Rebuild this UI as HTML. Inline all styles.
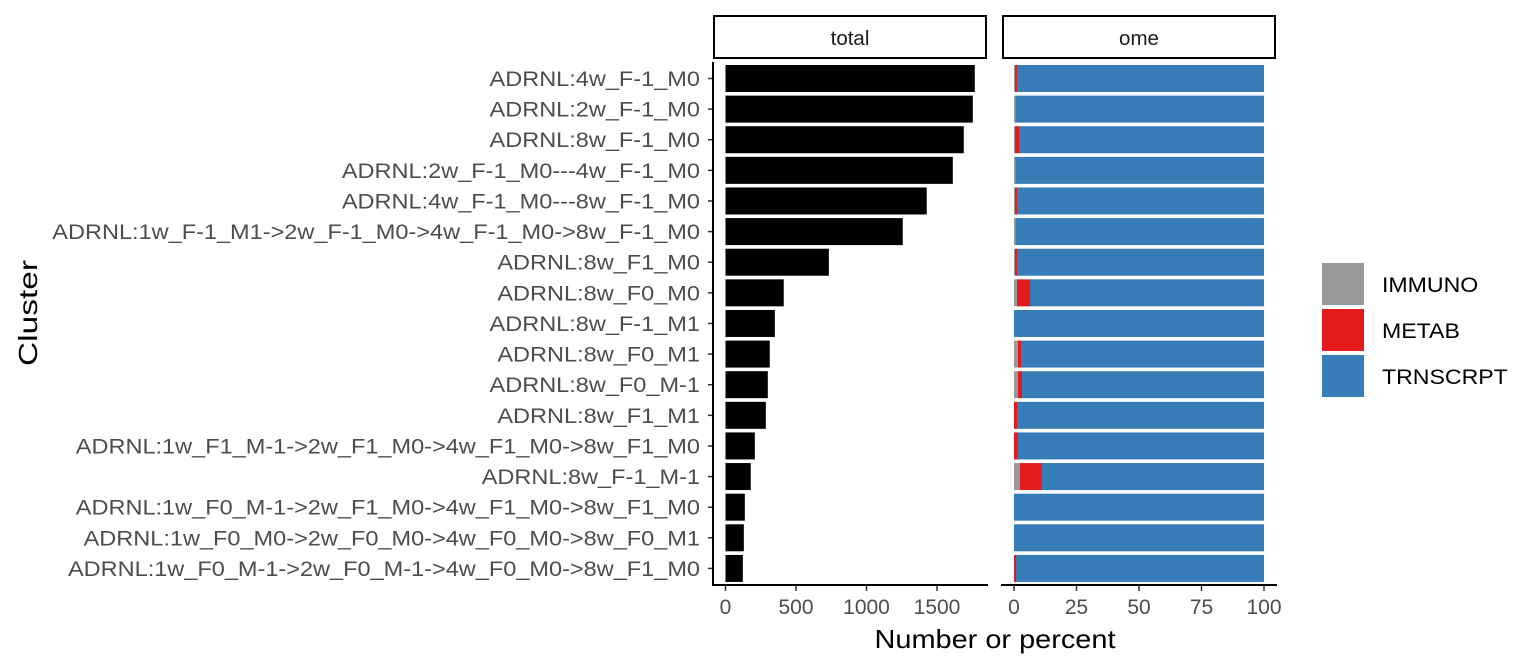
<!DOCTYPE html>
<html><head><meta charset="utf-8"><style>
body{margin:0;background:#fff}
svg{display:block;font-family:"Liberation Sans",Arial,sans-serif}
</style></head><body>
<svg id="chart" width="1536" height="672" xmlns="http://www.w3.org/2000/svg">
<g id="g"></g>
</svg>
<script>
const categories=["ADRNL:4w_F-1_M0","ADRNL:2w_F-1_M0","ADRNL:8w_F-1_M0","ADRNL:2w_F-1_M0---4w_F-1_M0","ADRNL:4w_F-1_M0---8w_F-1_M0","ADRNL:1w_F-1_M1->2w_F-1_M0->4w_F-1_M0->8w_F-1_M0","ADRNL:8w_F1_M0","ADRNL:8w_F0_M0","ADRNL:8w_F-1_M1","ADRNL:8w_F0_M1","ADRNL:8w_F0_M-1","ADRNL:8w_F1_M1","ADRNL:1w_F1_M-1->2w_F1_M0->4w_F1_M0->8w_F1_M0","ADRNL:8w_F-1_M-1","ADRNL:1w_F0_M-1->2w_F1_M0->4w_F1_M0->8w_F1_M0","ADRNL:1w_F0_M0->2w_F0_M0->4w_F0_M0->8w_F0_M1","ADRNL:1w_F0_M-1->2w_F0_M-1->4w_F0_M0->8w_F1_M0"];
const totals=[1768,1754,1690,1612,1427,1257,733,413,350,314,300,286,208,179,137,130,123];
const immuno=[0.4,0.5,0.4,0.5,0.4,0.5,0.4,1.2,0,1.6,1.6,0,0,2.4,0,0,0];
const metab=[0.8,0,1.6,0,0.8,0,0.8,5.2,0,1.2,1.6,1.2,1.6,8.8,0,0,0.8];
const totalTicks=[0,500,1000,1500];
const pctTicks=[0,25,50,75,100];
const seriesNames=["IMMUNO","METAB","TRNSCRPT"];
const colors=["#999999","#E41A1C","#377EB8"];

const NS="http://www.w3.org/2000/svg";
const g=document.getElementById('g');
function el(t,a,txt){const e=document.createElementNS(NS,t);for(const k in a)e.setAttribute(k,a[k]);if(txt!=null)e.textContent=txt;g.appendChild(e);return e;}
function stretch(t,k){const L=t.getComputedTextLength();t.setAttribute('textLength',L*k);t.setAttribute('lengthAdjust','spacingAndGlyphs');}
const xT=v=>725.5+v*0.1410;
const xP=v=>1014+v*2.5;
const yC=i=>78.5+i*30.62;
const bh=27;

let s=el('rect',{x:714,y:16,width:272,height:42,fill:'#fff',stroke:'#000','stroke-width':2});

s=el('text',{x:850,y:45,'text-anchor':'middle','font-size':20.5,fill:'#1a1a1a'},'total');

s=el('rect',{x:1003,y:16,width:272,height:42,fill:'#fff',stroke:'#000','stroke-width':2});

s=el('text',{x:1139,y:45,'text-anchor':'middle','font-size':20.5,fill:'#1a1a1a'},'ome');


categories.forEach((c,i)=>{
  const y=yC(i);
  let t=el('text',{x:700,y:y+7.5,'text-anchor':'end','font-size':21,fill:'#4d4d4d'},c);
  
  stretch(t,1.12);
  let tk=el('line',{x1:708,x2:713,y1:y,y2:y,stroke:'#333','stroke-width':1.5});
  
  let b=el('rect',{x:xT(0),y:y-bh/2,width:xT(totals[i])-xT(0),height:bh,fill:'#000'});
  
  const trn=100-immuno[i]-metab[i];
  const vals=[immuno[i],metab[i],trn];
  let acc=0;
  vals.forEach((v,k)=>{
    if(v>0){
      let r=el('rect',{x:xP(acc),y:y-bh/2,width:xP(acc+v)-xP(acc),height:bh,fill:colors[k]});
      
      
    }
    acc+=v;
  });
});

let a=el('line',{x1:713,x2:713,y1:62,y2:586,stroke:'#000','stroke-width':2});

a=el('line',{x1:712,x2:988,y1:585,y2:585,stroke:'#000','stroke-width':2});

a=el('line',{x1:1001,x2:1277,y1:585,y2:585,stroke:'#000','stroke-width':2});

totalTicks.forEach(v=>{
  let l=el('line',{x1:xT(v),x2:xT(v),y1:585,y2:591,stroke:'#333','stroke-width':1.5});
  
  let t=el('text',{x:xT(v),y:614,'text-anchor':'middle','font-size':21,fill:'#4d4d4d'},String(v));
  
});
pctTicks.forEach(v=>{
  let l=el('line',{x1:xP(v),x2:xP(v),y1:585,y2:591,stroke:'#333','stroke-width':1.5});
  
  let t=el('text',{x:xP(v),y:614,'text-anchor':'middle','font-size':21,fill:'#4d4d4d'},String(v));
  
});
let xt=el('text',{x:995,y:648,'text-anchor':'middle','font-size':26,fill:'#000',textLength:241,lengthAdjust:'spacingAndGlyphs'},'Number or percent');

let yt=el('text',{x:0,y:0,'text-anchor':'middle','font-size':26,fill:'#000',textLength:106,lengthAdjust:'spacingAndGlyphs',transform:'translate(37,313) rotate(-90)'},'Cluster');


seriesNames.forEach((n,k)=>{
  const y=263+k*46;
  let r=el('rect',{x:1322,y:y,width:42,height:42,fill:colors[k]});
  
  let t=el('text',{x:1382,y:y+29,'font-size':21,fill:'#000'},n);
  
  stretch(t,1.1);
});
</script>
</body></html>
